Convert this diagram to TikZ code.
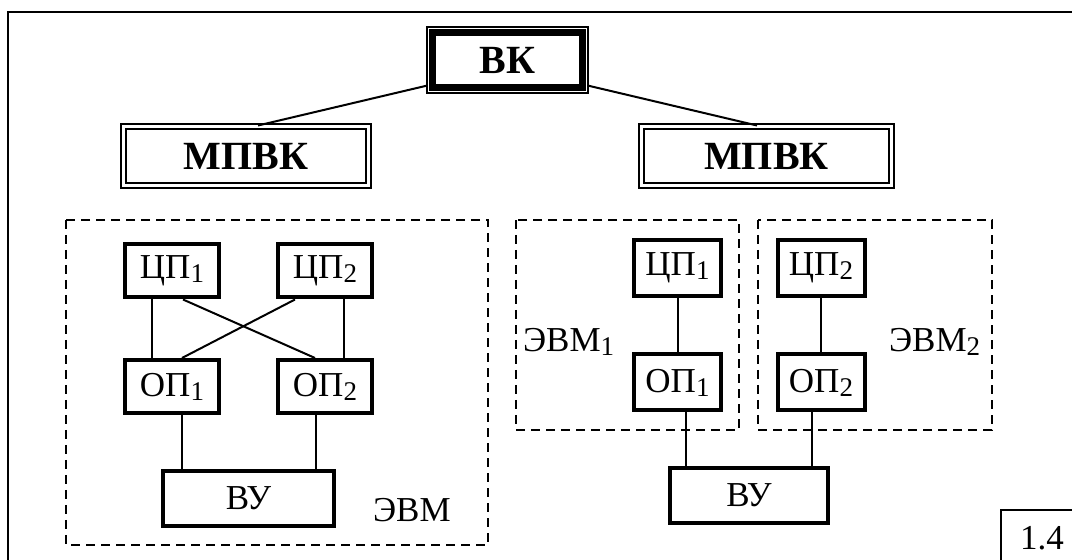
\documentclass[tikz,border=0pt]{standalone}
\usepackage{fontspec}
\setmainfont{Liberation Serif}
\usetikzlibrary{fit}
\newcommand{\ind}[1]{\raisebox{-2pt}{\fontsize{13.5}{14}\selectfont #1}}
\tikzset{
  txt/.style={font=\fontsize{17.5}{20}\selectfont},
  unit/.style={rectangle,draw,line width=2pt,inner sep=0pt,txt},
  lbox/.style={unit,minimum width=47pt,minimum height=26.5pt},
  rbox/.style={unit,minimum width=43.5pt,minimum height=28pt},
  mpvk/.style={rectangle,draw,double,line width=1pt,double distance=1.5pt,inner sep=0pt,
    minimum height=29.5pt,font=\bfseries\fontsize{20}{24}\selectfont},
  region/.style={draw,line width=0.7pt,dash pattern=on 4.5pt off 3pt},
  link/.style={line width=1pt}
}
\begin{document}
\begin{tikzpicture}[x=0.5pt,y=-0.5pt]
  \clip (0,0) rectangle (1072,560);
  \draw[line width=1pt] (8,12) rectangle (1100,600);
  % top level
  \node[rectangle,draw,line width=3.5pt,minimum width=75pt,minimum height=27.5pt,inner sep=0pt,
    font=\bfseries\fontsize{20}{24}\selectfont] (vk) at (507.5,60) {ВК};
  \node[rectangle,draw,line width=0.8pt,inner sep=1pt,fit=(vk)] (vkframe) {};
  \node[mpvk,minimum width=122.5pt] (m1) at (246,156) {МПВК};
  \node[mpvk,minimum width=125pt] (m2) at (766.5,156) {МПВК};
  \draw[link] ([yshift=4pt]vkframe.south west) -- ([xshift=6pt]m1.north);
  \draw[link] ([yshift=4pt]vkframe.south east) -- ([xshift=-4.75pt]m2.north);
  % left complex
  \draw[region] (66,220) rectangle (488,545);
  \node[lbox] (c1) at (172,271) {ЦП\ind{1}};
  \node[lbox] (c2) at (325,271) {ЦП\ind{2}};
  \node[lbox] (o1) at (172,386.5) {ОП\ind{1}};
  \node[lbox] (o2) at (325,386.5) {ОП\ind{2}};
  \node[unit,minimum width=85.5pt,minimum height=27.5pt] (vu) at (248.5,498.5) {ВУ};
  \node[txt,anchor=base west] (evm) at (366,522) {ЭВМ};
  \draw[link] ([xshift=-10pt]c1.south) -- ([xshift=-10pt]o1.north);
  \draw[link] ([xshift=9.5pt]c2.south) -- ([xshift=9.5pt]o2.north);
  \draw[link] ([xshift=5.5pt]c1.south) -- ([xshift=-5pt]o2.north);
  \draw[link] ([xshift=-15pt]c2.south) -- ([xshift=5pt]o1.north);
  \draw[link] ([xshift=5pt]o1.south) -- ([xshift=5pt]o1.south |- vu.north);
  \draw[link] ([xshift=-4.5pt]o2.south) -- ([xshift=-4.5pt]o2.south |- vu.north);
  % right complex
  \draw[region] (516,220) rectangle (739,430);
  \draw[region] (758,220) rectangle (992,430);
  \node[rbox] (rc1) at (677.5,268) {ЦП\ind{1}};
  \node[rbox] (rc2) at (821,268) {ЦП\ind{2}};
  \node[rbox] (ro1) at (677.5,382.5) {ОП\ind{1}};
  \node[rbox] (ro2) at (821,382.5) {ОП\ind{2}};
  \node[unit,minimum width=79pt,minimum height=27.5pt] (rvu) at (749,495.5) {ВУ};
  \node[txt,anchor=base west] (evm1) at (516,352) {ЭВМ\ind{1}};
  \node[txt,anchor=base west] (evm2) at (882,352) {ЭВМ\ind{2}};
  \draw[link] (rc1) -- (ro1);
  \draw[link] (rc2) -- (ro2);
  \draw[link] ([xshift=4.25pt]ro1.south) -- ([xshift=4.25pt]ro1.south |- rvu.north);
  \draw[link] ([xshift=-4.5pt]ro2.south) -- ([xshift=-4.5pt]ro2.south |- rvu.north);
  % figure number
  \node[txt] (fig) at (1042,538) {1.4};
  \draw[line width=0.8pt] (1001,600) -- (1001,510) -- (1100,510);
\end{tikzpicture}
\end{document}
